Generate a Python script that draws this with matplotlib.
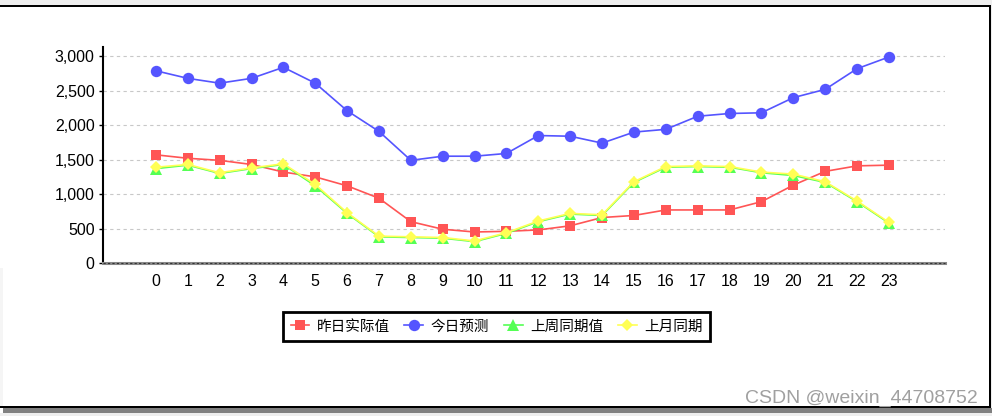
import numpy as np
import matplotlib
matplotlib.use("Agg")
import matplotlib.pyplot as plt
from matplotlib.patches import Rectangle

plt.rcParams['font.family'] = ['Liberation Sans', 'Noto Sans CJK SC', 'DejaVu Sans']

# hours 0..23
hours = list(range(24))

# series values
red_vals = [1570, 1520, 1490, 1430, 1320, 1250, 1120, 940, 600, 490, 450, 460,
            480, 540, 660, 690, 770, 770, 770, 890, 1130, 1330, 1410, 1420]
blue_vals = [2790, 2680, 2610, 2680, 2840, 2610, 2210, 1910, 1490, 1550, 1550, 1590,
             1850, 1840, 1740, 1900, 1940, 2130, 2170, 2180, 2400, 2520, 2820, 2990]
green_vals = [1370, 1420, 1300, 1370, 1430, 1120, 720, 380, 370, 360, 310, 430,
              600, 710, 690, 1170, 1390, 1400, 1390, 1310, 1270, 1170, 890, 580]
yellow_vals = [1390, 1430, 1310, 1380, 1440, 1140, 730, 390, 380, 370, 320, 440,
               610, 720, 700, 1180, 1400, 1410, 1400, 1320, 1290, 1180, 900, 590]

labels = ["昨日实际值", "今日预测", "上周同期值", "上月同期"]
y_ticks = [0, 500, 1000, 1500, 2000, 2500, 3000]

W, H = 992, 416
fig = plt.figure(figsize=(W / 100, H / 100), dpi=100)
fig.patch.set_facecolor("white")

def px_rect(x0, y0, x1, y1, color):
    # rectangle given in image pixel coords (origin top-left)
    fig.add_artist(Rectangle((x0 / W, 1 - y1 / H), (x1 - x0) / W, (y1 - y0) / H,
                             transform=fig.transFigure, facecolor=color,
                             edgecolor="none", zorder=-5))

# screenshot frame
px_rect(0, 0, W, 5, "#eeeeee")
px_rect(0, 5, W, 6.5, "#000000")
px_rect(989, 5, 991, 407, "#000000")
px_rect(991, 0, W, H, "#eeeeee")
px_rect(0, 268, 3, 407, "#f5f5f5")
px_rect(0, 406, 991, 407.5, "#000000")
px_rect(3, 407.5, W, 412.5, "#808080")
px_rect(0, 412.5, W, H, "#eeeeee")

ax = fig.add_axes([103 / W, 1 - 263 / H, (945 - 103) / W, (263 - 47) / H])
ax.set_facecolor("white")

styles = [
    (red_vals, "#FF5555", "s", 7.5),
    (blue_vals, "#5555FF", "o", 8.2),
    (green_vals, "#55FF55", "^", 8.5),
    (yellow_vals, "#FFFF55", "D", 6.5),
]
for (vals, col, mk, ms), lab in zip(styles, labels):
    ax.plot(hours, vals, color=col, lw=1.2, marker=mk, ms=ms,
            markeredgewidth=0, label=lab, zorder=3)

ax.set_xlim(-1.66, 24.76)
ax.set_ylim(0, 3135)
ax.set_xticks(hours)
ax.set_xticklabels([str(h) for h in hours], fontsize=11.5)
ax.set_yticks(y_ticks)
ax.set_yticklabels([f"{v:,}" for v in y_ticks], fontsize=11.5)
ax.tick_params(axis="x", length=0, pad=8)
ax.tick_params(axis="y", length=3, width=1, pad=3, direction="out")

ax.grid(axis="y", color="#c8c8c8", lw=0.8, ls=(0, (3, 3)))
ax.set_axisbelow(True)

for s in ["top", "right"]:
    ax.spines[s].set_visible(False)
ax.spines["left"].set_linewidth(1.5)
ax.spines["left"].set_color("black")
ax.spines["bottom"].set_linewidth(2.2)
ax.spines["bottom"].set_color("#8a8a8a")
ax.axhline(0, color="#333333", lw=0.8, ls=(0, (2, 2)), zorder=4, clip_on=False)

leg = fig.legend(loc="center", bbox_to_anchor=(496.5 / W, 1 - 326.5 / H),
                 ncol=4, fontsize=10.5, frameon=True, fancybox=False,
                 edgecolor="black", framealpha=1, handlelength=1.3,
                 handletextpad=0.5, columnspacing=1.0, borderpad=0.5,
                 markerscale=1.0)
leg.get_frame().set_linewidth(2)

fig.text(978 / W, 1 - 398 / H, "CSDN @weixin_44708752", ha="right", va="center",
         fontsize=14, color="#a0a0a0")

fig.savefig("out.png", dpi=100)
